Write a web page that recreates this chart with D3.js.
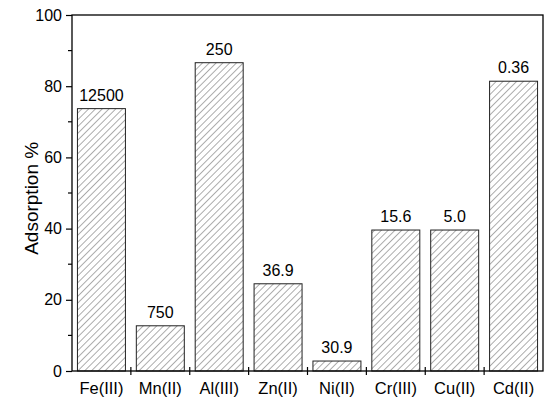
<!DOCTYPE html>
<html>
<head>
<meta charset="utf-8">
<script src="https://cdn.jsdelivr.net/npm/d3@7"></script>
<style>
  body { margin: 0; background: #fff; }
  text { font-family: "Liberation Sans", Arial, sans-serif; fill: #000; }
</style>
</head>
<body>
<svg id="chart" width="550" height="399"></svg>
<script>
// Data
const ions = ["Fe(III)", "Mn(II)", "Al(III)", "Zn(II)", "Ni(II)", "Cr(III)", "Cu(II)", "Cd(II)"];
const adsorption = [73.7, 12.7, 86.6, 24.5, 2.8, 39.6, 39.6, 81.4];
const barLabels = ["12500", "750", "250", "36.9", "30.9", "15.6", "5.0", "0.36"];
const yTicks = [0, 20, 40, 60, 80, 100];
const yMinorTicks = [10, 30, 50, 70, 90];

const margin = {top: 15, right: 7, bottom: 28, left: 72};
const width = 550, height = 399;

const svg = d3.select("#chart");

// hatch pattern
svg.append("defs").append("pattern")
	.attr("id", "hatch")
	.attr("patternUnits", "userSpaceOnUse")
	.attr("width", 4.8)
	.attr("height", 4.8)
	.attr("patternTransform", "rotate(45)")
	.append("line")
		.attr("x1", 0).attr("y1", 0)
		.attr("x2", 0).attr("y2", 4.8)
		.attr("stroke", "#333")
		.attr("stroke-width", 0.8);

const x = d3.scaleBand()
	.domain(ions)
	.range([margin.left, width - margin.right])
	.paddingInner(0.185)
	.paddingOuter(0.0925);

const y = d3.scaleLinear()
	.domain([0, 100])
	.range([height - margin.bottom, margin.top]);

// bars
svg.append("g")
	.selectAll("rect")
	.data(ions)
	.enter()
	.append("rect")
		.attr("x", d => x(d))
		.attr("width", x.bandwidth())
		.attr("y", (d, i) => y(adsorption[i]))
		.attr("height", (d, i) => y(0) - y(adsorption[i]))
		.attr("fill", "url(#hatch)")
		.attr("stroke", "#222")
		.attr("stroke-width", 1);

// value labels
svg.append("g")
	.selectAll("text")
	.data(ions)
	.enter()
	.append("text")
		.attr("x", d => x(d) + x.bandwidth() / 2)
		.attr("y", (d, i) => y(adsorption[i]) - 8)
		.attr("text-anchor", "middle")
		.attr("font-size", 16)
		.text((d, i) => barLabels[i]);

// frame
svg.append("rect")
	.attr("x", margin.left)
	.attr("y", margin.top)
	.attr("width", width - margin.left - margin.right)
	.attr("height", height - margin.top - margin.bottom)
	.attr("fill", "none")
	.attr("stroke", "#000")
	.attr("stroke-width", 1.3);

// y axis
const yAxis = svg.append("g")
	.attr("transform", `translate(${margin.left},0)`)
	.call(d3.axisLeft(y).tickValues(yTicks).tickSize(6).tickPadding(4));
yAxis.select(".domain").remove();
yAxis.selectAll("text").attr("font-size", 16).style("font-family", "Liberation Sans, Arial, sans-serif");
yAxis.selectAll("line").attr("stroke-width", 1.2);

svg.append("g")
	.selectAll("line")
	.data(yMinorTicks)
	.enter()
	.append("line")
		.attr("x1", margin.left - 4)
		.attr("x2", margin.left)
		.attr("y1", d => y(d))
		.attr("y2", d => y(d))
		.attr("stroke", "#000")
		.attr("stroke-width", 1.2);

// x ticks at category boundaries
const step = x.step();
const bounds = d3.range(1, ions.length).map(i => margin.left + i * step);
svg.append("g")
	.selectAll("line")
	.data(bounds)
	.enter()
	.append("line")
		.attr("x1", d => d)
		.attr("x2", d => d)
		.attr("y1", y(0) - 4)
		.attr("y2", y(0) + 4)
		.attr("stroke", "#000")
		.attr("stroke-width", 1.2);

// x labels
svg.append("g")
	.selectAll("text")
	.data(ions)
	.enter()
	.append("text")
		.attr("x", d => x(d) + x.bandwidth() / 2)
		.attr("y", y(0) + 23)
		.attr("text-anchor", "middle")
		.attr("font-size", 16.5)
		.text(d => d);

// y title
svg.append("text")
	.attr("transform", `translate(38,${y(48.5)}) rotate(-90)`)
	.attr("text-anchor", "middle")
	.attr("font-size", 19)
	.text("Adsorption %");
</script>
</body>
</html>
